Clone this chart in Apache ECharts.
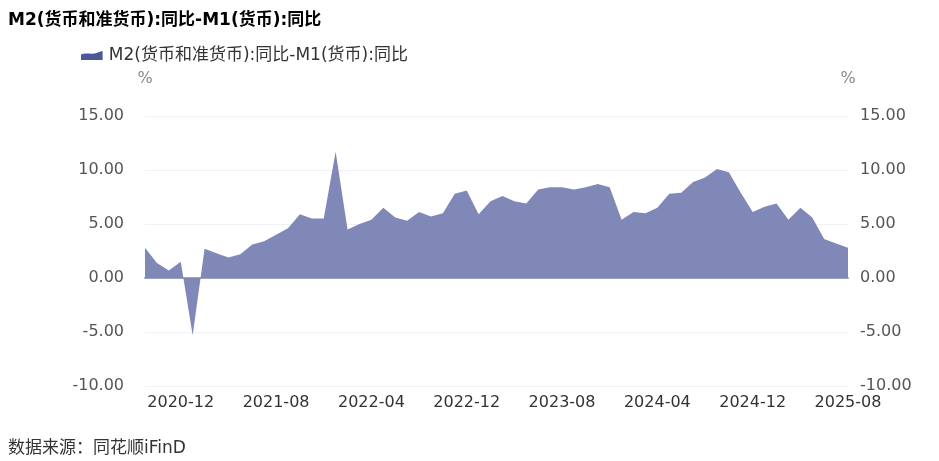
<!DOCTYPE html>
<html>
<head>
<meta charset="utf-8">
<script src="https://cdn.jsdelivr.net/npm/echarts@6/dist/echarts.min.js"></script>
<style>
html, body { margin: 0; padding: 0; background: #fff; }
#chart { width: 939px; height: 461px; }
</style>
</head>
<body>
<div id="chart"></div>
<script>
var months = [
	'2020-09','2020-10','2020-11','2020-12',
	'2021-01','2021-02','2021-03','2021-04','2021-05','2021-06','2021-07','2021-08','2021-09','2021-10','2021-11','2021-12',
	'2022-01','2022-02','2022-03','2022-04','2022-05','2022-06','2022-07','2022-08','2022-09','2022-10','2022-11','2022-12',
	'2023-01','2023-02','2023-03','2023-04','2023-05','2023-06','2023-07','2023-08','2023-09','2023-10','2023-11','2023-12',
	'2024-01','2024-02','2024-03','2024-04','2024-05','2024-06','2024-07','2024-08','2024-09','2024-10','2024-11','2024-12',
	'2025-01','2025-02','2025-03','2025-04','2025-05','2025-06','2025-07','2025-08'
];
var spread = [
	2.8, 1.4, 0.7, 1.5,
	-5.3, 2.7, 2.3, 1.9, 2.2, 3.1, 3.4, 4.0, 4.6, 5.9, 5.5, 5.5,
	11.7, 4.5, 5.0, 5.4, 6.5, 5.6, 5.3, 6.1, 5.7, 6.0, 7.8, 8.1,
	5.9, 7.1, 7.6, 7.1, 6.9, 8.2, 8.4, 8.4, 8.2, 8.4, 8.7, 8.4,
	5.4, 6.1, 6.0, 6.5, 7.8, 7.9, 8.9, 9.3, 10.1, 9.8, 7.9, 6.1,
	6.6, 6.9, 5.4, 6.5, 5.6, 3.6, 3.2, 2.8
];
var seriesName = 'M2(货币和准货币):同比-M1(货币):同比';
var yTicks = { min: -10, max: 15, step: 5 };

var font = '"DejaVu Sans", "Noto Sans CJK SC", sans-serif';
var last = months.length - 1;

function yAxis(pos, margin) {
	return {
		type: 'value',
		position: pos,
		min: yTicks.min,
		max: yTicks.max,
		interval: yTicks.step,
		name: '%',
		nameLocation: 'end',
		nameGap: 29,
		nameTextStyle: { color: '#888', fontSize: 16, fontFamily: font, align: 'center' },
		axisLine: { show: false },
		axisTick: { show: false },
		axisLabel: {
			color: '#555',
			fontSize: 16,
			fontFamily: font,
			margin: margin,
			formatter: function(v) { return v.toFixed(2); }
		},
		splitLine: { show: pos === 'left', lineStyle: { color: '#f0f0f6', width: 1 } }
	};
}

var option = {
	animation: false,
	backgroundColor: '#fff',
	title: {
		text: seriesName,
		left: 3,
		top: 7,
		textStyle: { fontSize: 17, fontWeight: 'bold', color: '#000', fontFamily: font }
	},
	legend: {
		left: 76,
		top: 42,
		itemWidth: 24,
		itemHeight: 9,
		itemGap: 6,
		textStyle: { fontSize: 17, color: '#333', fontFamily: font },
		data: [{
			name: seriesName,
			icon: 'path://M0,10 L0,4 C4,2 8,3 12,3 C16,3 20,1 24,0 L24,10 Z',
			itemStyle: { color: '#4f5896' }
		}]
	},
	grid: { left: 145, right: 91, top: 116, bottom: 75 },
	xAxis: {
		type: 'category',
		data: months,
		boundaryGap: false,
		axisLine: { lineStyle: { color: '#9ca1c6', width: 2 } },
		axisTick: { show: false },
		axisLabel: {
			color: '#333',
			fontSize: 16,
			fontFamily: font,
			margin: 9,
			interval: function(idx) { return (last - idx) % 8 === 0; }
		},
		splitLine: { show: false }
	},
	yAxis: [yAxis('left', 21), yAxis('right', 12)],
	series: [{
		name: seriesName,
		type: 'line',
		data: spread,
		symbol: 'none',
		lineStyle: { width: 0, color: '#8088b8' },
		itemStyle: { color: '#4f5896' },
		areaStyle: { color: '#8088b8', opacity: 1 }
	}],
	graphic: [{
		type: 'text',
		left: 8,
		top: 440,
		style: { text: '数据来源：同花顺iFinD', fontSize: 17, fill: '#333', fontFamily: font }
	}]
};

var chart = echarts.init(document.getElementById('chart'));
chart.setOption(option);
</script>
</body>
</html>
